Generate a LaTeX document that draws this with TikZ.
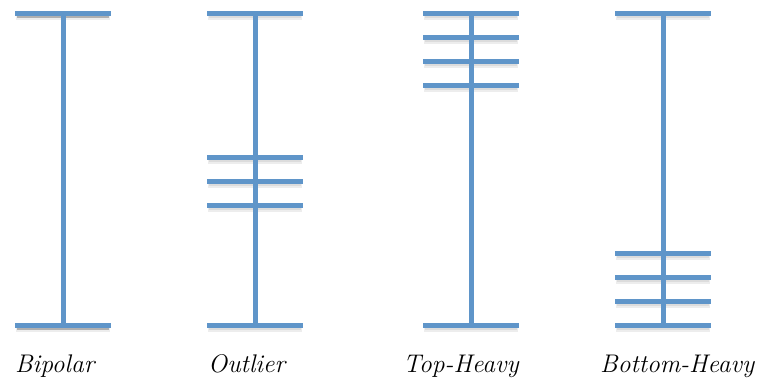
\documentclass[tikz,border=0pt]{standalone}
\definecolor{barblue}{RGB}{95,149,201}
\tikzset{
  bar/.style={line width=5pt, color=barblue},
  barshade/.style={line width=7pt, color=black, opacity=0.07},
  kind/.style={font=\itshape\fontsize{25.5}{30}\selectfont, anchor=base west, inner sep=0pt}
}
\begin{document}
\begin{tikzpicture}[x=1pt,y=-1pt]
  \useasboundingbox (0,0) rectangle (760,381);
  % soft shadows under the bars
  \foreach \cx/\list in {63/{13,325}, 255/{13,157,181,205,325},
                         471/{13,37,61,85,325}, 663/{13,253,277,301,325}}{
    \foreach \yy in \list{
      \draw[barshade] (\cx-47,\yy+3) -- (\cx+47,\yy+3);
      \draw[barshade, line width=4pt] (\cx-46,\yy+2.5) -- (\cx+46,\yy+2.5);
    }
  }
  % Bipolar has a heavier shadow
  \foreach \yy in {13,325}
    \draw[barshade, opacity=0.2, line width=5pt] (17,\yy+2.5) -- (109,\yy+2.5);
  % spines and bars
  \foreach \cx/\list in {63/{13,325}, 255/{13,157,181,205,325},
                         471/{13,37,61,85,325}, 663/{13,253,277,301,325}}{
    \draw[bar] (\cx,13) -- (\cx,325);
    \foreach \yy in \list
      \draw[bar] (\cx-48,\yy) -- (\cx+48,\yy);
  }
  % labels
  \node[kind] at (15,372) (bipolar) {Bipolar};
  \node[kind] at (208,372) (outlier) {Outlier};
  \node[kind] at (403,372) (topheavy) {Top-Heavy};
  \node[kind] at (600,372) (bottomheavy) {Bottom-Heavy};
\end{tikzpicture}
\end{document}
